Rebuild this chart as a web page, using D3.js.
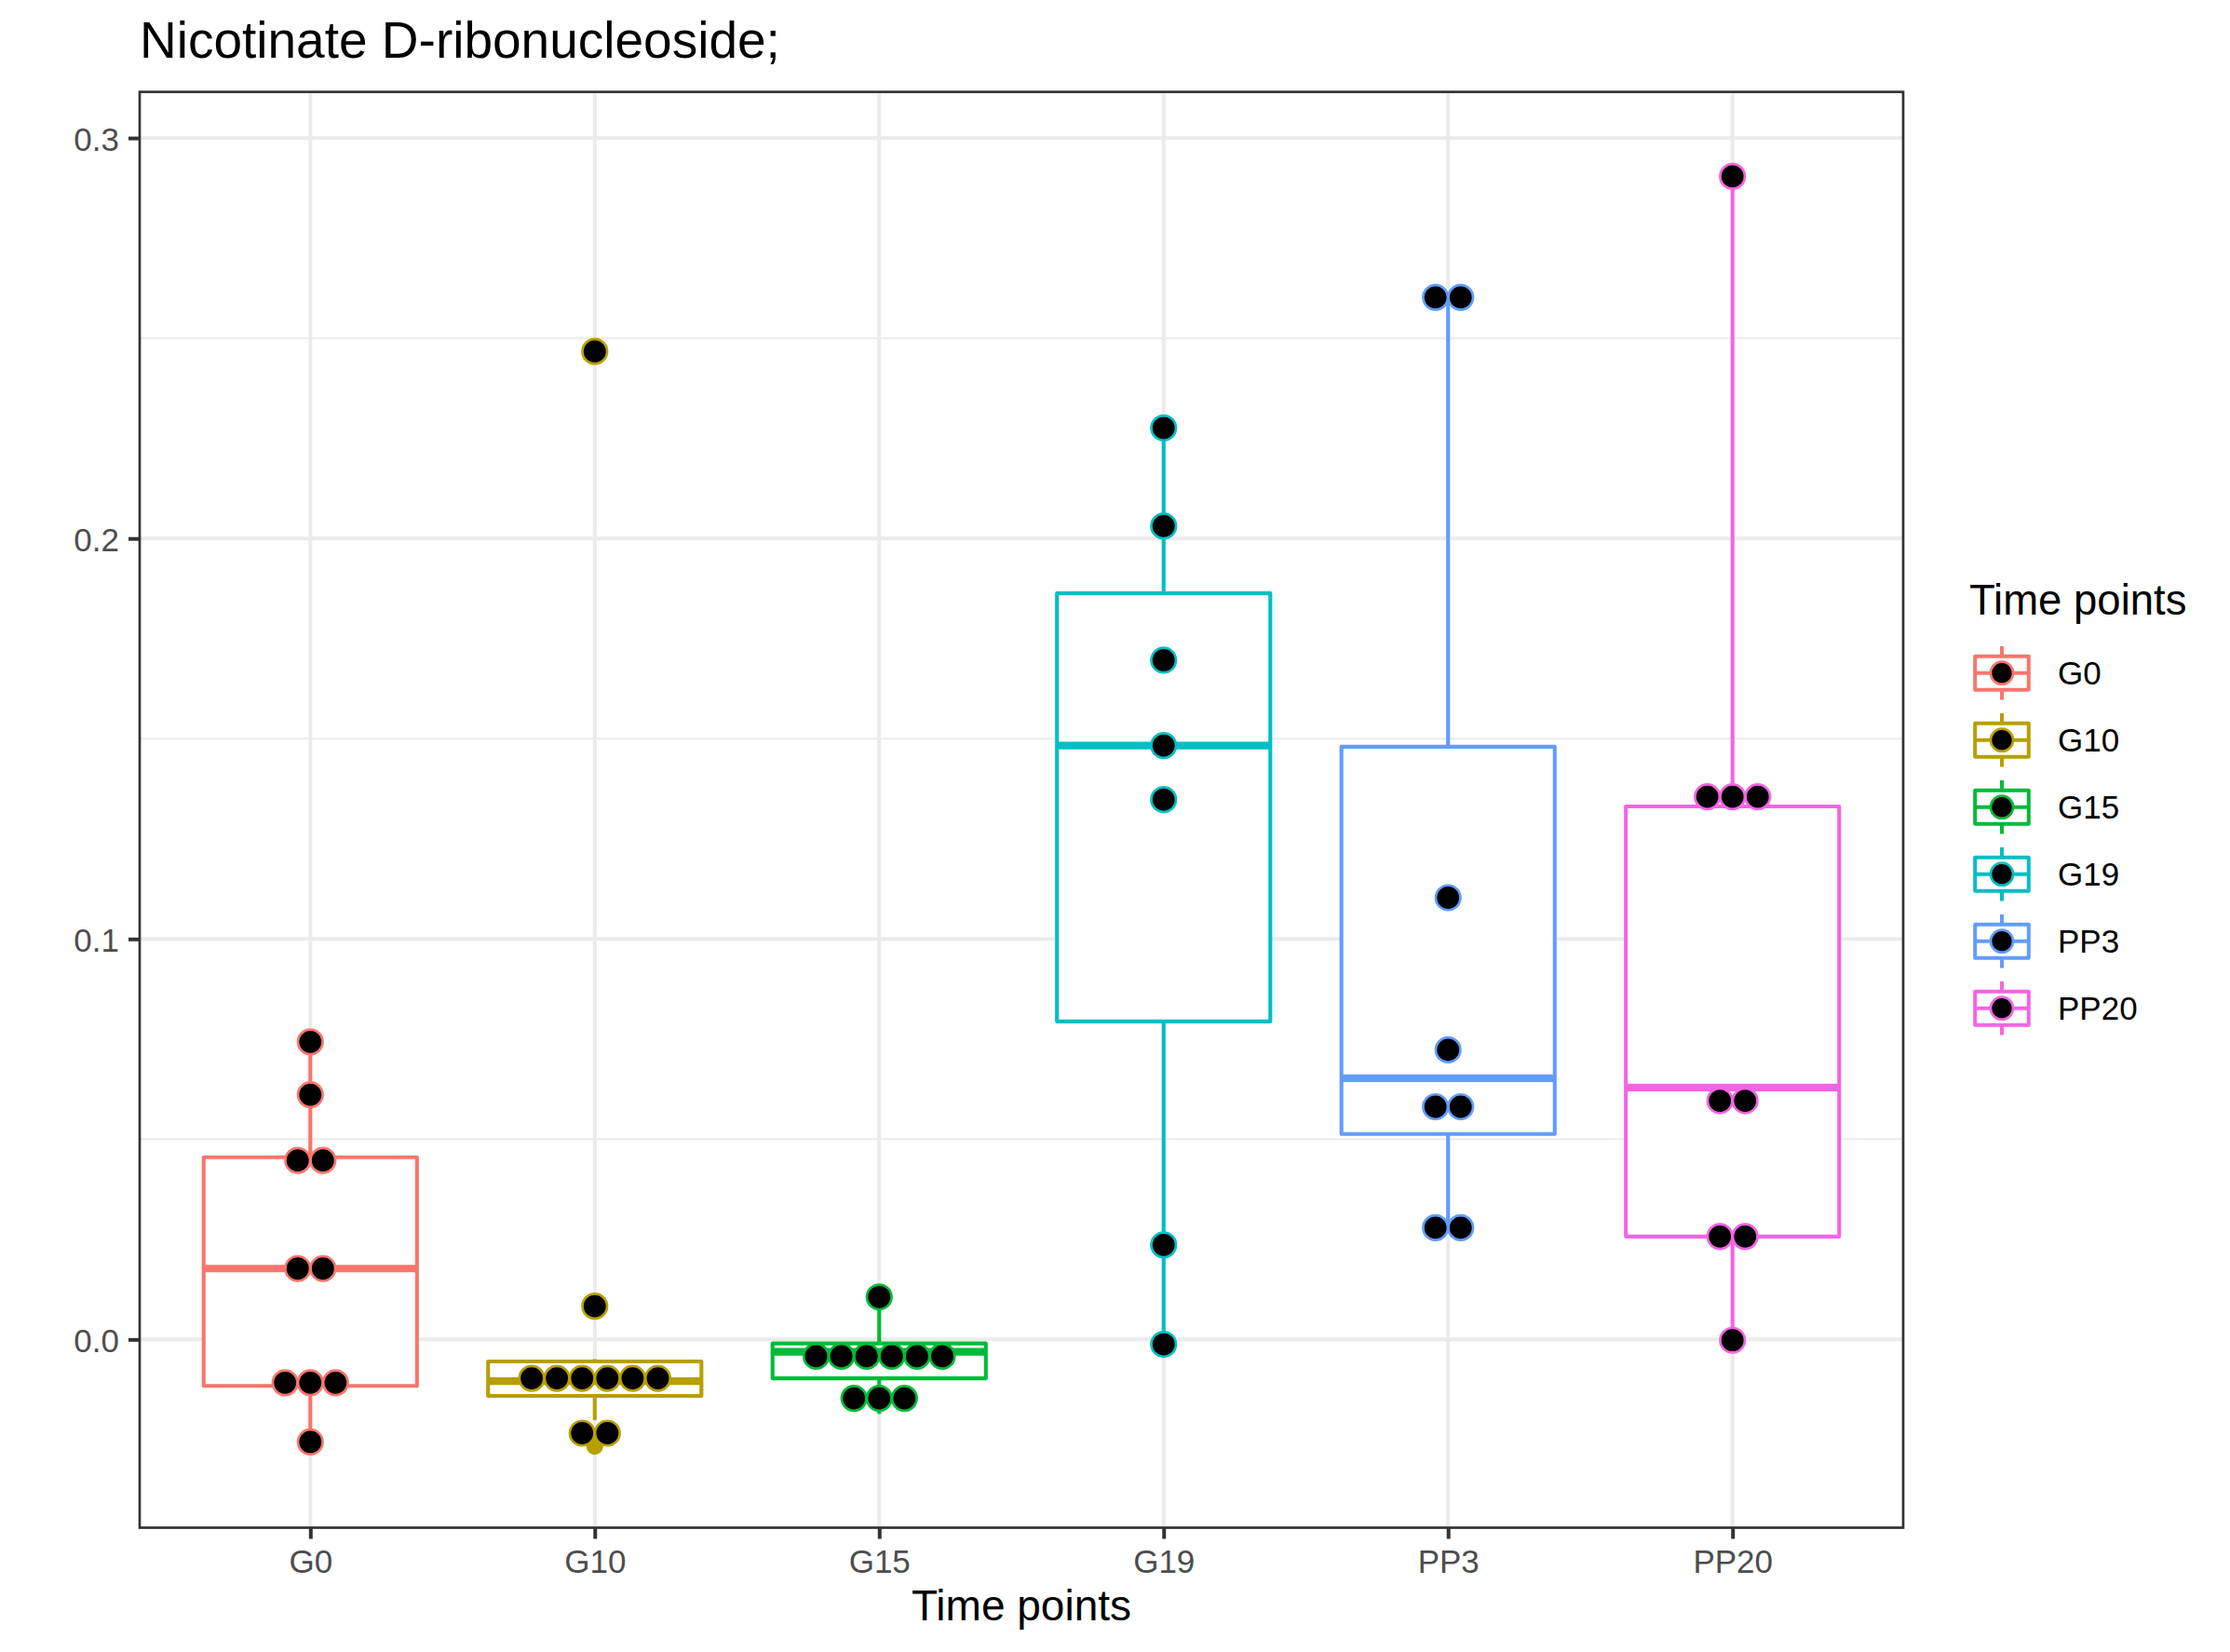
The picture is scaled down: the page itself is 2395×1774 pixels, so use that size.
<!DOCTYPE html>
<html>
<head>
<meta charset="utf-8">
<script src="https://cdn.jsdelivr.net/npm/d3@7"></script>
<style>
  html, body { margin: 0; padding: 0; background: #fff; }
  svg { display: block; font-family: "Liberation Sans", Arial, Helvetica, sans-serif; }
</style>
</head>
<body>
<svg id="chart" width="2395" height="1774"></svg>
<script>
// ---------------- data ----------------
const categories = ["G0", "G10", "G15", "G19", "PP3", "PP20"];
const colors = ["#F8766D", "#B79F00", "#00BA38", "#00BFC4", "#619CFF", "#F564E3"];

// boxplot statistics (whisker low, Q1, median, Q3, whisker high)
const whiskerLow  = [-0.0256, -0.0201, -0.0186, -0.0012, 0.0279, -0.0002];
const q1          = [-0.0116, -0.0141, -0.0097,  0.0794, 0.0513,  0.0257];
const medians     = [ 0.0177, -0.0104, -0.0031,  0.1483, 0.0652,  0.0629];
const q3          = [ 0.0455, -0.0055, -0.0010,  0.1863, 0.1480,  0.1331];
const whiskerHigh = [ 0.0743, -0.0049,  0.0106,  0.2276, 0.2602,  0.2904];
const outliers = [[], [0.2467, 0.0083, -0.0267], [], [], [], []];

// dot-plot bins: [value, number of stacked dots]
const dotsG0   = [[0.0743, 1], [0.0611, 1], [0.0447, 2], [0.0177, 2], [-0.0108, 3], [-0.0256, 1]];
const dotsG10  = [[0.2467, 1], [0.0083, 1], [-0.0097, 6], [-0.0234, 2]];
const dotsG15  = [[0.0106, 1], [-0.0042, 6], [-0.0147, 3]];
const dotsG19  = [[0.2276, 1], [0.2031, 1], [0.1696, 1], [0.1483, 1], [0.1348, 1], [0.0236, 1], [-0.0012, 1]];
const dotsPP3  = [[0.2602, 2], [0.1103, 1], [0.0723, 1], [0.0581, 2], [0.0279, 2]];
const dotsPP20 = [[0.2904, 1], [0.1355, 3], [0.0596, 2], [0.0257, 2], [-0.0002, 1]];
const dotBins = [dotsG0, dotsG10, dotsG15, dotsG19, dotsPP3, dotsPP20];

const yTicks = [0, 0.1, 0.2, 0.3];
const yMinorTicks = [0.05, 0.15, 0.25];
const yDomain = [-0.0470, 0.3115];
const dotDiameterData = 0.0063;

const titleText = "Nicotinate D-ribonucleoside;";
const xTitle = "Time points";
const legendTitle = "Time points";

// ---------------- layout ----------------
const svg = d3.select("#chart");
const P = { left: 150, right: 2044, top: 98.7, bottom: 1640.5 };

const x = d3.scalePoint().domain(categories).range([P.left, P.right]).padding(0.6);
const y = d3.scaleLinear().domain(yDomain).range([P.bottom, P.top]);
const step = x.step();
const boxW = step * 0.75;
const dotD = y(0) - y(dotDiameterData);

const grid = svg.append("g");
grid.selectAll(".minor").data(yMinorTicks).join("line")
  .attr("x1", P.left).attr("x2", P.right)
  .attr("y1", d => y(d)).attr("y2", d => y(d))
  .attr("stroke", "#EBEBEB").attr("stroke-width", 2);
grid.selectAll(".majy").data(yTicks).join("line")
  .attr("x1", P.left).attr("x2", P.right)
  .attr("y1", d => y(d)).attr("y2", d => y(d))
  .attr("stroke", "#EBEBEB").attr("stroke-width", 4);
grid.selectAll(".majx").data(categories).join("line")
  .attr("x1", d => x(d)).attr("x2", d => x(d))
  .attr("y1", P.top).attr("y2", P.bottom)
  .attr("stroke", "#EBEBEB").attr("stroke-width", 4);

// boxplots
const boxes = svg.append("g");
categories.forEach((c, i) => {
  const g = boxes.append("g");
  const cx = x(c), col = colors[i];
  const lw = 4.1;
  g.append("line").attr("x1", cx).attr("x2", cx)
    .attr("y1", y(q3[i])).attr("y2", y(whiskerHigh[i]))
    .attr("stroke", col).attr("stroke-width", lw);
  g.append("line").attr("x1", cx).attr("x2", cx)
    .attr("y1", y(q1[i])).attr("y2", y(whiskerLow[i]))
    .attr("stroke", col).attr("stroke-width", lw);
  g.append("rect")
    .attr("x", cx - boxW / 2).attr("width", boxW)
    .attr("y", y(q3[i])).attr("height", y(q1[i]) - y(q3[i]))
    .attr("fill", "#fff").attr("stroke", col).attr("stroke-width", lw)
    .attr("stroke-linejoin", "round");
  g.append("line").attr("x1", cx - boxW / 2).attr("x2", cx + boxW / 2)
    .attr("y1", y(medians[i])).attr("y2", y(medians[i]))
    .attr("stroke", col).attr("stroke-width", lw * 2);
  g.selectAll("circle").data(outliers[i]).join("circle")
    .attr("cx", cx).attr("cy", d => y(d)).attr("r", 9)
    .attr("fill", col);
});

// dotplots
const dots = svg.append("g");
categories.forEach((c, i) => {
  const cx = x(c), col = colors[i];
  const pts = [];
  dotBins[i].forEach(([v, n]) => {
    for (let k = 0; k < n; k++) pts.push({ v, off: (k - (n - 1) / 2) });
  });
  dots.append("g").selectAll("circle").data(pts).join("circle")
    .attr("cx", d => cx + d.off * dotD)
    .attr("cy", d => y(d.v))
    .attr("r", dotD / 2 - 0.3)
    .attr("fill", "#000")
    .attr("stroke", col).attr("stroke-width", 2.7);
});

// panel border
svg.append("rect").attr("x", P.left).attr("y", P.top)
  .attr("width", P.right - P.left).attr("height", P.bottom - P.top)
  .attr("fill", "none").attr("stroke", "#333333").attr("stroke-width", 2.7);

// axes
const yAxis = svg.append("g").attr("transform", `translate(${P.left},0)`)
  .call(d3.axisLeft(y).tickValues(yTicks).tickFormat(d3.format(".1f")).tickSize(12).tickPadding(10));
const xAxis = svg.append("g").attr("transform", `translate(0,${P.bottom})`)
  .call(d3.axisBottom(x).tickSize(12).tickPadding(12));
[yAxis, xAxis].forEach(a => {
  a.select(".domain").remove();
  a.selectAll(".tick line").attr("stroke", "#333333").attr("stroke-width", 4);
  a.selectAll(".tick text").attr("fill", "#4D4D4D")
    .style("font-size", "35px").style("font-family", "Liberation Sans, Arial, sans-serif");
});
yAxis.selectAll(".tick text").attr("dy", "0.37em");
xAxis.selectAll(".tick text").attr("dy", "0.71em");

// titles
svg.append("text").attr("x", P.left).attr("y", 62)
  .attr("font-size", 55).attr("fill", "#000").text(titleText);
svg.append("text").attr("x", (P.left + P.right) / 2).attr("y", 1740)
  .attr("text-anchor", "middle").attr("font-size", 46).attr("fill", "#000").text(xTitle);

// legend
const L = { x: 2114, titleY: 660, firstY: 722.7, key: 72, labelX: 2210 };
const legend = svg.append("g");
legend.append("text").attr("x", L.x + 1).attr("y", L.titleY)
  .attr("font-size", 45.5).attr("fill", "#000").text(legendTitle);
categories.forEach((c, i) => {
  const cy = L.firstY + i * L.key;
  const cx = L.x + L.key / 2;
  const col = colors[i];
  const g = legend.append("g");
  const kx0 = L.x + L.key * 0.1, kx1 = L.x + L.key * 0.9;
  const ky = t => cy - L.key / 2 + L.key * t;
  g.append("line").attr("x1", cx).attr("x2", cx).attr("y1", ky(0.1)).attr("y2", ky(0.25))
    .attr("stroke", col).attr("stroke-width", 4);
  g.append("line").attr("x1", cx).attr("x2", cx).attr("y1", ky(0.75)).attr("y2", ky(0.9))
    .attr("stroke", col).attr("stroke-width", 4);
  g.append("rect").attr("x", kx0).attr("y", ky(0.25)).attr("width", kx1 - kx0).attr("height", ky(0.75) - ky(0.25))
    .attr("fill", "#fff").attr("stroke", col).attr("stroke-width", 4).attr("stroke-linejoin", "round");
  g.append("line").attr("x1", kx0).attr("x2", kx1).attr("y1", cy).attr("y2", cy)
    .attr("stroke", col).attr("stroke-width", 4);
  g.append("circle").attr("cx", cx).attr("cy", cy).attr("r", 12)
    .attr("fill", "#000").attr("stroke", col).attr("stroke-width", 2.7);
  g.append("text").attr("x", L.labelX).attr("y", cy).attr("dy", "0.36em")
    .attr("font-size", 35).attr("fill", "#000").text(c);
});
</script>
</body>
</html>
